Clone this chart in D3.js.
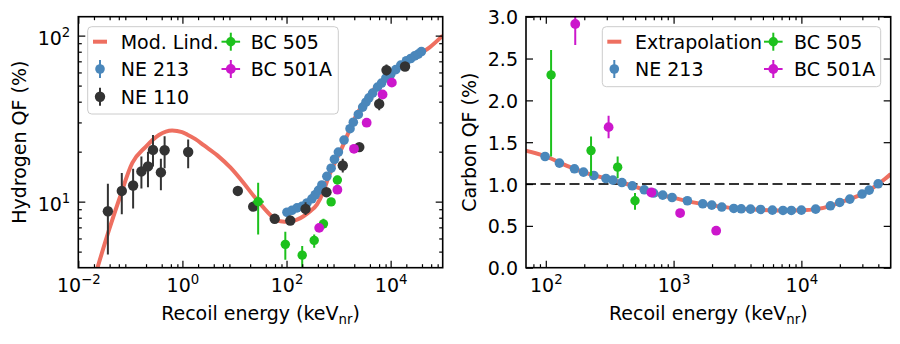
<!DOCTYPE html>
<html><head><meta charset="utf-8">
<script src="https://cdn.jsdelivr.net/npm/d3@7"></script>
<style>body{margin:0;background:#fff} svg{display:block;font-family:"DejaVu Sans",sans-serif}</style>
</head><body><svg id="c" width="900" height="344"></svg>
<script>
// ---------------- Hydrogen panel data ----------------
const hCurveE  = [0.0228,0.0392,0.0608,0.109,0.197,0.354,0.635,0.986,1.25,1.78,2.6,4.69,8.41,15.1,23.5,36.5,56.6,76,110,159,212,285,383,512,638,1151,2228,4000,7190,15000,36100,56200,100000];
const hCurveQF = [3.9,6.80,10.3,17.1,21.4,25.2,26.8,26.2,25.3,23.8,21.8,19.0,16.0,12.9,10.8,9.17,7.98,7.62,7.56,7.80,8.17,8.75,9.6,11.5,14.0,21.0,33.5,44.5,54.5,66.0,77.6,85.0,100];

const hNE213E  = [102,127,159,198,247,307,356,411,477,595,719,832,991,1274,1660,1919,2393,2904,3357,3828,4508,5610,6700,8090,10090,12560,15670,20140,24300,29030,33900,39000];
const hNE213QF = [8.63,8.87,9.17,9.37,9.82,10.4,11.0,11.7,12.6,14.2,15.9,18.0,19.9,23.5,27.5,30.1,33.5,37.1,39.7,42.2,45.1,49.0,51.8,55.5,58.7,62.4,66.5,70.6,72.8,75.5,77.4,80.2];

const hNE110E  = [0.037,0.0685,0.113,0.163,0.218,0.272,0.386,0.455,1.29,11.6,22.9,59.3,118,232,585,1203,2500,6030,8320,18900];
const hNE110QF = [8.75,11.6,12.5,15.2,16.3,20.5,15.0,20.4,19.9,11.6,9.33,7.88,7.69,9.04,11.4,16.5,21.3,38.8,62.0,65.2];
const hNE110Lo = [4.8,8.4,9.1,12.0,12.2,16.3,11.7,15.9,15.9,11.0,8.8,7.5,7.3,8.3,10.7,15.0,20.2,35.5,57.5,61.5];
const hNE110Hi = [12.8,14.9,15.8,18.7,20.0,25.2,18.1,24.8,23.7,12.2,9.9,8.3,8.1,9.9,12.1,18.1,22.4,42.0,67.0,69.0];

const hBC505E   = [28.5,94.8,200,340,512,719,948];
const hBC505QF  = [10.0,5.53,4.76,5.84,7.35,9.96,13.5];
const hBC505Lo  = [6.35,4.46,3.9,5.28,6.9,9.4,12.7];
const hBC505Hi  = [13.0,6.59,5.4,6.35,7.9,10.5,14.3];
const hBC505XLo = [22.5,90,190,323,486,683,900];
const hBC505XHi = [36.5,100,210,357,538,755,995];

const hBC501E  = [424,948,1977,3460,7000,10540];
const hBC501QF = [6.95,11.8,20.8,29.9,44.2,52.1];

// ---------------- Carbon panel data ----------------
const cCurveE  = [68.9,100,150,200,300,400,500,700,1000,1500,2000,3000,5000,7000,10000,13000,17000,20000,25000,30000,35000,40000,45000,50000];
const cCurveQF = [1.40,1.33,1.21,1.14,1.065,1.015,0.97,0.89,0.835,0.775,0.745,0.71,0.69,0.685,0.688,0.70,0.74,0.78,0.83,0.88,0.94,1.0,1.06,1.12];

const cNE213E  = [98.7,127.8,167.6,197.2,237.7,295.6,335,394.5,475,590,698,822,973,1282,1691,1990,2383,2958,3381,4000,4798,5930,7180,8350,10000,12940,16870,19950,23940,29860,33900,39900];
const cNE213QF = [1.329,1.250,1.182,1.142,1.102,1.066,1.047,1.018,0.979,0.931,0.892,0.868,0.839,0.800,0.764,0.748,0.725,0.708,0.704,0.700,0.696,0.688,0.684,0.684,0.688,0.700,0.740,0.780,0.820,0.880,0.927,1.003];

const cBC505E  = [110,226,365,499];
const cBC505QF = [2.304,1.400,1.202,0.800];
const cBC505Lo = [1.329,1.10,1.07,0.692];
const cBC505Hi = [2.602,1.567,1.329,0.892];

const cBC501E  = [170,310,670,1125,2154];
const cBC501QF = [2.913,1.680,0.899,0.653,0.442];
const cBC501Lo = [2.662,1.548,0.86,0.63,0.42];
const cBC501Hi = [3.05,1.815,0.94,0.675,0.465];

const cRefLine = [1.0];

// ---------------- ticks / labels ----------------
const hXMajor = [1e-2,1e0,1e2,1e4];
const hYMajor = [1e1,1e2];
const cXMajor = [1e2,1e3,1e4];
const cYMajor = [0,0.5,1.0,1.5,2.0,2.5,3.0];
const hYLabel = "Hydrogen QF (%)";
const cYLabel = "Carbon QF (%)";
const xLabelMain = "Recoil energy (keV";
const xLabelSub = "nr";
const hLegend = ["Mod. Lind.","NE 213","NE 110","BC 505","BC 501A"];
const cLegend = ["Extrapolation","NE 213","BC 505","BC 501A"];

const COL = {curve:"#ee6f60", ne213:"#4a87bb", ne110:"#333333", bc505:"#1dc11d", bc501:"#cc17cc"};
const FS = 19, FSS = 13.3;
const svg = d3.select("#c");

function minorLog(lo, hi, subs){
  const out=[];
  for(let k=Math.floor(Math.log10(lo))-1;k<=Math.ceil(Math.log10(hi));k++){
    subs.forEach(s=>{const v=s*Math.pow(10,k); if(v>lo*1.0001 && v<hi*0.9999) out.push(v);});
  }
  return out;
}

function supLabel(sel){
  sel.selectAll(".tick text").each(function(d){
    const t=d3.select(this); t.text(null);
    const e=Math.round(Math.log10(d));
    t.append("tspan").text("10");
    t.append("tspan").attr("dy",-8).attr("font-size",FSS).text(e<0?"\u2212"+(-e):String(e));
  });
}

function panel(id, x, y, opts){
  const [x0,x1]=x.range(); const [yb,yt]=y.range();
  const g=svg.append("g");
  svg.append("clipPath").attr("id",id).append("rect").attr("x",x0).attr("y",yt).attr("width",x1-x0).attr("height",yb-yt);
  const plot=g.append("g").attr("clip-path",`url(#${id})`);
  const axes=g.append("g");
  function style(s){ s.select(".domain").remove(); s.selectAll(".tick line").attr("stroke","#000").attr("stroke-width",1.2); s.attr("font-size",FS).attr("font-family","DejaVu Sans").attr("fill","#000"); s.selectAll("text").attr("fill","#000"); }
  const b=axes.append("g").attr("transform",`translate(0,${yb})`).call(d3.axisBottom(x).tickValues(opts.xMaj).tickSize(-7).tickPadding(11));
  style(b); if(opts.xLog) supLabel(b);
  axes.append("g").attr("transform",`translate(0,${yb})`).call(d3.axisBottom(x).tickValues(opts.xMin).tickSize(-3.5).tickFormat("")).call(style);
  axes.append("g").attr("transform",`translate(0,${yt})`).call(d3.axisTop(x).tickValues(opts.xMaj).tickSize(-7).tickFormat("")).call(style);
  axes.append("g").attr("transform",`translate(0,${yt})`).call(d3.axisTop(x).tickValues(opts.xMin).tickSize(-3.5).tickFormat("")).call(style);
  const l=axes.append("g").attr("transform",`translate(${x0},0)`).call(d3.axisLeft(y).tickValues(opts.yMaj).tickSize(-7).tickPadding(8).tickFormat(opts.yFmt||null));
  style(l);
  if(opts.yLog){ supLabel(l); l.selectAll(".tick text").attr("dy","0.47em"); } else l.selectAll(".tick text").attr("dy","0.37em");
  axes.append("g").attr("transform",`translate(${x1},0)`).call(d3.axisRight(y).tickValues(opts.yMaj).tickSize(-7).tickFormat("")).call(style);
  if(opts.yMin){
    axes.append("g").attr("transform",`translate(${x0},0)`).call(d3.axisLeft(y).tickValues(opts.yMin).tickSize(-3.5).tickFormat("")).call(style);
    axes.append("g").attr("transform",`translate(${x1},0)`).call(d3.axisRight(y).tickValues(opts.yMin).tickSize(-3.5).tickFormat("")).call(style);
  }
  g.append("rect").attr("x",x0).attr("y",yt).attr("width",x1-x0).attr("height",yb-yt).attr("fill","none").attr("stroke","#000").attr("stroke-width",1.6);
  const xl=g.append("text").attr("x",(x0+x1)/2).attr("y",320).attr("text-anchor","middle").attr("font-size",FS);
  xl.append("tspan").text(xLabelMain);
  xl.append("tspan").attr("dy",3.5).attr("font-size",FSS).text(xLabelSub);
  xl.append("tspan").attr("dy",-3.5).text(")");
  g.append("text").attr("transform",`translate(${opts.yLabelX},${(yt+yb)/2}) rotate(-90)`).attr("text-anchor","middle").attr("font-size",FS).text(opts.yLabel);
  return {g,plot};
}

function curve(plot,x,y,E,Q){
  plot.append("path").datum(E.map((e,i)=>[e,Q[i]])).attr("fill","none").attr("stroke",COL.curve).attr("stroke-width",4)
    .attr("d",d3.line().x(d=>x(d[0])).y(d=>y(d[1])).curve(d3.curveMonotoneX));
}
function errPoints(plot,x,y,E,Q,Lo,Hi,XLo,XHi,color,r){
  const g=plot.append("g");
  E.forEach((e,i)=>{
    if(Lo) g.append("line").attr("x1",x(e)).attr("x2",x(e)).attr("y1",y(Lo[i])).attr("y2",y(Hi[i])).attr("stroke",color).attr("stroke-width",2);
    if(XLo) g.append("line").attr("x1",x(XLo[i])).attr("x2",x(XHi[i])).attr("y1",y(Q[i])).attr("y2",y(Q[i])).attr("stroke",color).attr("stroke-width",2);
    g.append("circle").attr("cx",x(e)).attr("cy",y(Q[i])).attr("r",r).attr("fill",color);
  });
}
function legendBox(g,x0,y0,x1,y1){
  g.append("rect").attr("x",x0).attr("y",y0).attr("width",x1-x0).attr("height",y1-y0).attr("rx",4)
    .attr("fill","#fff").attr("fill-opacity",0.8).attr("stroke","#cccccc").attr("stroke-width",1);
}
function legLine(g,cx,cy){ g.append("line").attr("x1",cx-7).attr("x2",cx+7).attr("y1",cy).attr("y2",cy).attr("stroke",COL.curve).attr("stroke-width",4); }
function legPt(g,cx,cy,color,hbar,r){
  g.append("line").attr("x1",cx).attr("x2",cx).attr("y1",cy-9).attr("y2",cy+9).attr("stroke",color).attr("stroke-width",2);
  if(hbar) g.append("line").attr("x1",cx-9.3).attr("x2",cx+9.3).attr("y1",cy).attr("y2",cy).attr("stroke",color).attr("stroke-width",2);
  g.append("circle").attr("cx",cx).attr("cy",cy).attr("r",r).attr("fill",color);
}
function legText(g,x,cy,t){ g.append("text").attr("x",x).attr("y",cy+7).attr("font-size",FS).attr("fill","#000").text(t); }

// ---------------- Hydrogen panel ----------------
const hx=d3.scaleLog().domain([1e-2,1e5]).range([78.3,442.7]);
const hy=d3.scaleLog().domain([4,130]).range([267.7,16.7]);
const H=panel("clipH",hx,hy,{xMaj:hXMajor,xMin:minorLog(1e-2,1e5,[2,4,6,8]),xLog:true,yMaj:hYMajor,yMin:minorLog(4,130,[2,3,4,5,6,7,8,9]),yLog:true,yLabel:hYLabel,yLabelX:26});
curve(H.plot,hx,hy,hCurveE,hCurveQF);
errPoints(H.plot,hx,hy,hNE213E,hNE213QF,null,null,null,null,COL.ne213,4.8);
errPoints(H.plot,hx,hy,hNE110E,hNE110QF,hNE110Lo,hNE110Hi,null,null,COL.ne110,5.2);
errPoints(H.plot,hx,hy,hBC505E,hBC505QF,hBC505Lo,hBC505Hi,hBC505XLo,hBC505XHi,COL.bc505,4.7);
errPoints(H.plot,hx,hy,hBC501E,hBC501QF,null,null,null,null,COL.bc501,4.9);
const hl=H.g.append("g");
legendBox(hl,87.7,26.7,338.3,114);
legLine(hl,100,41.7); legText(hl,120.7,41.7,hLegend[0]);
legPt(hl,100,69,COL.ne213,false,4.8); legText(hl,120.7,69,hLegend[1]);
legPt(hl,100,96.7,COL.ne110,false,5.2); legText(hl,120.7,96.7,hLegend[2]);
legPt(hl,230.8,41.7,COL.bc505,true,4.7); legText(hl,250.7,41.7,hLegend[3]);
legPt(hl,230.8,69,COL.bc501,true,4.9); legText(hl,250.7,69,hLegend[4]);

// ---------------- Carbon panel ----------------
const cx=d3.scaleLog().domain([70,5e4]).range([526,890.7]);
const cy=d3.scaleLinear().domain([0,3]).range([267.7,16.7]);
const C=panel("clipC",cx,cy,{xMaj:cXMajor,xMin:minorLog(70,5e4,[2,3,4,5,6,7,8,9]),xLog:true,yMaj:cYMajor,yFmt:d3.format(".1f"),yLog:false,yLabel:cYLabel,yLabelX:476});
C.plot.selectAll("line.ref").data(cRefLine).enter().append("line").attr("class","ref")
  .attr("x1",526).attr("x2",890.7).attr("y1",d=>cy(d)).attr("y2",d=>cy(d))
  .attr("stroke","#333").attr("stroke-width",2).attr("stroke-dasharray","10,4.5");
curve(C.plot,cx,cy,cCurveE,cCurveQF);
errPoints(C.plot,cx,cy,cNE213E,cNE213QF,null,null,null,null,COL.ne213,4.8);
errPoints(C.plot,cx,cy,cBC505E,cBC505QF,cBC505Lo,cBC505Hi,null,null,COL.bc505,4.7);
errPoints(C.plot,cx,cy,cBC501E,cBC501QF,cBC501Lo,cBC501Hi,null,null,COL.bc501,4.9);
const cl=C.g.append("g");
legendBox(cl,602.3,26.7,880.7,86.7);
legLine(cl,614.3,41.7); legText(cl,635,41.7,cLegend[0]);
legPt(cl,614.3,69,COL.ne213,false,4.8); legText(cl,635,69,cLegend[1]);
legPt(cl,773.3,41.7,COL.bc505,true,4.7); legText(cl,794,41.7,cLegend[2]);
legPt(cl,773.3,69,COL.bc501,true,4.9); legText(cl,794,69,cLegend[3]);
</script></body></html>
